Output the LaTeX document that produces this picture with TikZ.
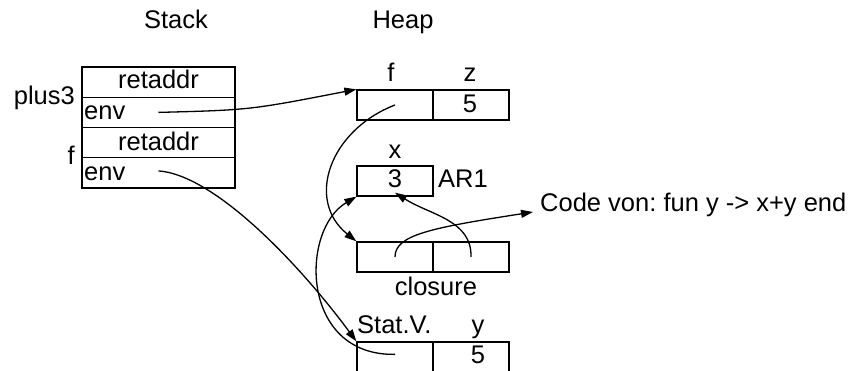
\documentclass[tikz,border=0pt]{standalone}
\usepackage{fontspec}
\setmainfont{Liberation Sans}
\usetikzlibrary{arrows.meta}
\frenchspacing
\tikzset{
  cell/.style={draw, line width=1.3pt, inner sep=0pt, minimum width=76pt, minimum height=30pt},
  scell/.style={draw, line width=1.3pt, inner sep=0pt, minimum width=153pt, minimum height=30.25pt},
  txt/.style={inner sep=0pt, anchor=base, font=\fontsize{25.5}{30}\selectfont},
  arr/.style={line width=1.3pt, -{Triangle[length=12pt,width=8pt]}},
}
\begin{document}
\begin{tikzpicture}[x=1pt,y=-1pt]
\useasboundingbox (0,0) rectangle (853,371);
% stack
\node[scell] (s1) at (158.5,82.1) {};
\node[scell] (s2) at (158.5,112.4) {};
\node[scell] (s3) at (158.5,142.6) {};
\node[scell] (s4) at (158.5,172.9) {};
\node[txt] (tstack) at (176,29) {Stack};
\node[txt] (theap) at (403,29) {Heap};
\node[txt] (tr1) at (158.5,89) {retaddr};
\node[txt] (tr2) at (158.5,151) {retaddr};
\node[txt, anchor=base west] (te1) at (84,120) {env};
\node[txt, anchor=base west] (te2) at (84,181) {env};
\node[txt, anchor=base east] (tplus) at (75,105) {plus3};
\node[txt, anchor=base east] (tf) at (75,165) {f};
% heap box f,z
\node[cell] (hf) at (395,105) {};
\node[cell] (hz) at (471,105) {};
\node[txt] (lf) at (391,82) {f};
\node[txt] (lz) at (470,82) {z};
\node[txt] (v5a) at (470,113) {5};
% box x
\node[cell] (hx) at (395,181) {};
\node[txt] (lx) at (395,159) {x};
\node[txt] (v3) at (395,188) {3};
\node[txt, anchor=base west] (lar) at (438,188) {AR1};
% closure
\node[cell] (c1) at (395,257) {};
\node[cell] (c2) at (471,257) {};
\node[txt] (lcl) at (436,295) {closure};
% bottom box
\node[cell, minimum height=40pt] (b1) at (395,362) {};
\node[cell, minimum height=40pt] (b2) at (471,362) {};
\node[txt, anchor=base west] (lsv) at (357,333) {Stat.V.};
\node[txt] (ly) at (478,333) {y};
\node[txt] (v5b) at (478,363) {5};
% code
\node[txt, anchor=base west] (code) at (540,212) {Code von: fun y -> x+y end};
\coordinate (codein) at (533,212);
% connectors
\draw[arr] (s2.center) .. controls (250,110) .. (hf.north west);
\draw[arr] ([yshift=2pt]s4.center) .. controls (215,175) and (300,265) .. (b1.north west);
\draw[arr] (hf.center) .. controls (330,130) and (305,200) .. (c1.north west);
\draw[arr] (b1.center |- v5b.center) .. controls (300,356) and (300,230) .. (hx.south west);
\draw[arr] (c2.center) .. controls (472,220) and (430,215) .. ([yshift=4pt]hx.south);
\draw[arr] (c1.center) .. controls (395,235) and (430,228) .. (codein);
\end{tikzpicture}
\end{document}
